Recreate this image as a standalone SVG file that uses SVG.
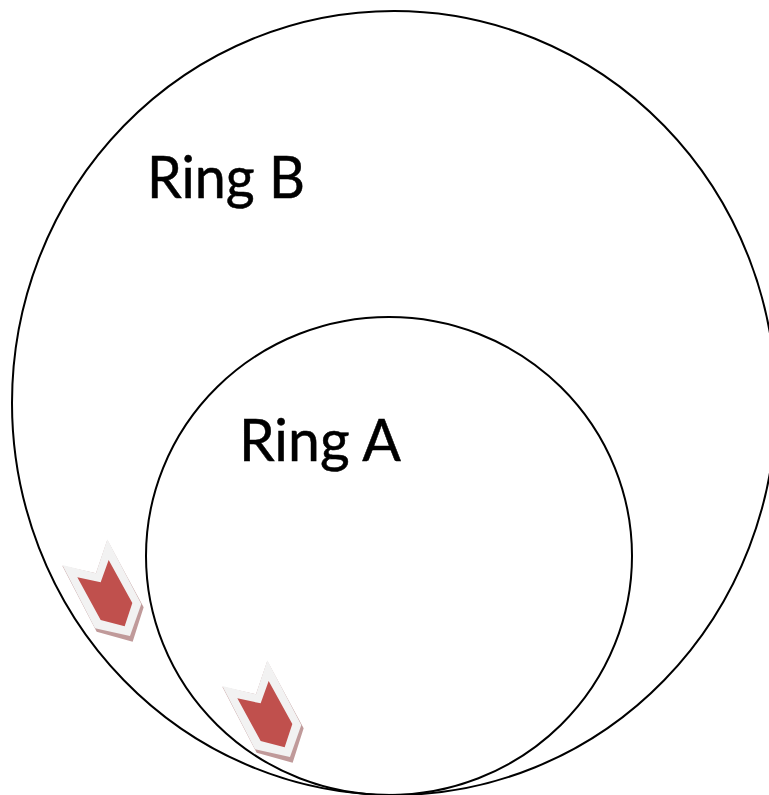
<svg xmlns="http://www.w3.org/2000/svg" width="769" height="795" viewBox="0 0 769 795">
<style>
.ring{fill:none;stroke:#000;stroke-width:2}
.lbl{font-family:Lato,"Open Sans",sans-serif;font-size:58px;fill:#000;stroke:#000;stroke-width:.5}
</style>
<defs>
<g id="mk">
<polygon points="37,107 140,305 248,335 281,232 172,30 138,130" fill="#c09a9a"/>
<polygon points="37,105 135,295 240,318 274,222 172,28 138,130" fill="#f2f2f2"/>
<polygon points="82,142 152,157 176,90 247,219 224,289 152,270" fill="#c0504d"/>
</g>
</defs>
<rect width="769" height="795" fill="#fff"/>
<g id="ring-b"><ellipse class="ring" cx="394" cy="403" rx="382" ry="392"/><text class="lbl" x="147" y="198" textLength="158" lengthAdjust="spacingAndGlyphs">Ring B</text></g>
<g id="ring-a"><ellipse class="ring" cx="389" cy="556" rx="243" ry="239"/><text class="lbl" x="239" y="461" textLength="162" lengthAdjust="spacingAndGlyphs">Ring A</text></g>
<g id="marker-1"><use href="#mk" transform="translate(50 530) scale(.3333)"/></g>
<g id="marker-2"><use href="#mk" transform="translate(210 651) scale(.3333)"/></g>
<g id="connectors"/>
</svg>
